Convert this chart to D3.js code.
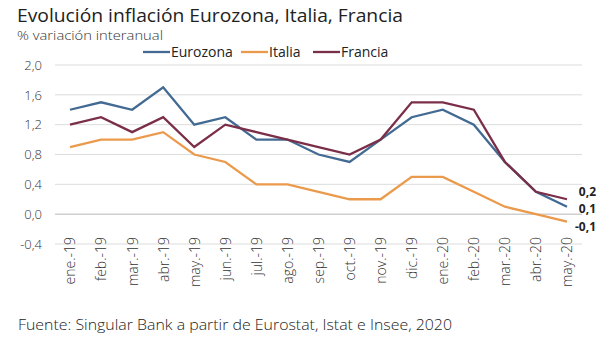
<!DOCTYPE html>
<html>
<head>
<meta charset="utf-8">
<script src="https://cdn.jsdelivr.net/npm/d3@7"></script>
<style>
  body { margin: 0; background: #fff; }
  svg { font-family: "Open Sans", Lato, sans-serif; }
</style>
</head>
<body>
<svg id="chart" width="611" height="339"></svg>
<script>
// Monthly categories
const months = ["ene.-19","feb.-19","mar.-19","abr.-19","may.-19","jun.-19","jul.-19","ago.-19","sep.-19",
                "oct.-19","nov.-19","dic.-19","ene.-20","feb.-20","mar.-20","abr.-20","may.-20"];
// Year-on-year inflation, %
const eurozona = [1.4,1.5,1.4,1.7,1.2,1.3,1.0,1.0,0.8,0.7,1.0,1.3,1.4,1.2,0.7,0.3,0.1];
const italia   = [0.9,1.0,1.0,1.1,0.8,0.7,0.4,0.4,0.3,0.2,0.2,0.5,0.5,0.3,0.1,0.0,-0.1];
const francia  = [1.2,1.3,1.1,1.3,0.9,1.2,1.1,1.0,0.9,0.8,1.0,1.5,1.5,1.4,0.7,0.3,0.2];
const yTicks = [-0.4,0.0,0.4,0.8,1.2,1.6,2.0];

const series = [
  {name:"Eurozona", values:eurozona, color:"#426a93"},
  {name:"Italia",   values:italia,   color:"#eb9a4c"},
  {name:"Francia",  values:francia,  color:"#7b2e47"}
];

const svg = d3.select("#chart");
const fmt = v => d3.format(".1f")(v).replace(".", ",").replace("−","-");

const x = d3.scalePoint().domain(months).range([70, 567]);
const y = d3.scaleLinear().domain([-0.4, 2.0]).range([244, 65]);

// Title block
svg.append("text").attr("x", 17).attr("y", 22).attr("font-size", 18).attr("fill", "#222")
  .attr("textLength", 386).attr("lengthAdjust", "spacingAndGlyphs")
  .text("Evolución inflación Eurozona, Italia, Francia");
svg.append("text").attr("x", 17).attr("y", 40).attr("font-size", 13).attr("font-weight", 300).attr("fill", "#333")
  .attr("textLength", 146).attr("lengthAdjust", "spacingAndGlyphs")
  .text("% variación interanual");

// Gridlines
svg.append("g").selectAll("line").data(yTicks).join("line")
  .attr("x1", 55).attr("x2", 582)
  .attr("y1", d => y(d)).attr("y2", d => y(d))
  .attr("stroke", d => d === 0 ? "#cfcfcf" : "#dcdcdc")
  .attr("stroke-width", d => d === 0 ? 1.5 : 1);

// Y axis labels
const yAxis = d3.axisLeft(y).tickValues(yTicks).tickFormat(fmt).tickSize(0).tickPadding(0);
svg.append("g").attr("transform", "translate(42,0)").call(yAxis)
  .call(g => g.select(".domain").remove())
  .selectAll("text").attr("font-size", 13).attr("font-weight", 300).attr("fill", "#333")
  .attr("font-family", "'Open Sans', sans-serif");

// X axis labels (rotated)
const xAxis = d3.axisBottom(x).tickSize(0).tickPadding(0);
svg.append("g").attr("transform", "translate(0,237)").call(xAxis)
  .call(g => g.select(".domain").remove())
  .selectAll("text")
  .attr("font-size", 14).attr("font-weight", 300).attr("fill", "#333")
  .attr("font-family", "'Open Sans', sans-serif")
  .attr("transform", "rotate(-90)")
  .attr("text-anchor", "end")
  .attr("x", 0).attr("y", 0).attr("dy", "0.35em");

// Lines
const line = d3.line().x((d, i) => x(months[i])).y(d => y(d));
svg.append("g").selectAll("path").data(series).join("path")
  .attr("d", d => line(d.values))
  .attr("fill", "none").attr("stroke", d => d.color).attr("stroke-width", 2.3)
  .attr("stroke-linejoin", "miter");

// End-value labels
const last = months.length - 1;
const endOffsets = {Eurozona: 3.5, Italia: 6.5, Francia: -6};
svg.append("g").selectAll("text").data(series).join("text")
  .attr("x", 596).attr("y", d => y(d.values[last]) + endOffsets[d.name])
  .attr("text-anchor", "end").attr("dominant-baseline", "middle")
  .attr("font-size", 12).attr("font-weight", 700).attr("fill", "#222")
  .text(d => fmt(d.values[last]));

// Legend
const legendX = {Eurozona: 143, Italia: 241, Francia: 313};
const lg = svg.append("g").selectAll("g").data(series).join("g")
  .attr("transform", d => `translate(${legendX[d.name]},52)`);
lg.append("line").attr("x1", 0).attr("x2", 27).attr("y1", 0).attr("y2", 0)
  .attr("stroke", d => d.color).attr("stroke-width", 2.3);
lg.append("text").attr("x", 28).attr("y", 0).attr("dy", "0.35em")
  .attr("font-size", 14).attr("font-weight", 400).attr("fill", "#222").text(d => d.name);

// Source note
svg.append("text").attr("x", 18).attr("y", 330).attr("font-size", 14).attr("font-weight", 300).attr("fill", "#222")
  .attr("textLength", 434).attr("lengthAdjust", "spacingAndGlyphs")
  .text("Fuente: Singular Bank a partir de Eurostat, Istat e Insee, 2020");
</script>
</body>
</html>
